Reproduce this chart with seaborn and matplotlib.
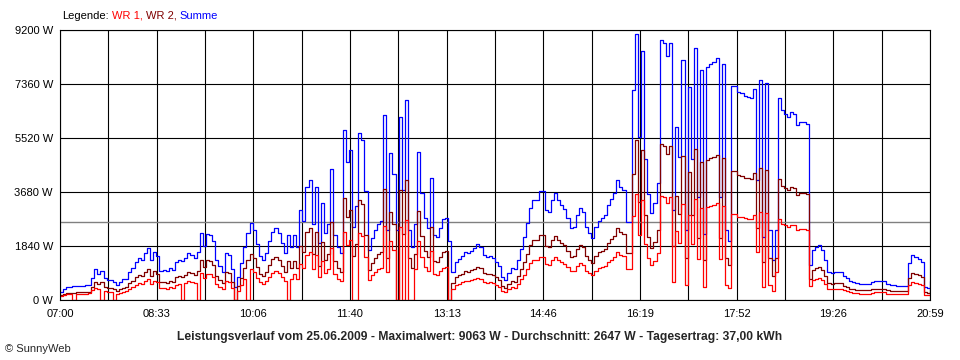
import numpy as np
import pandas as pd
import matplotlib
matplotlib.use("Agg")
import matplotlib.pyplot as plt
import seaborn as sns

# Tick labels / axis values
time_labels = ["07:00", "08:33", "10:06", "11:40", "13:13",
               "14:46", "16:19", "17:52", "19:26", "20:59"]
y_ticks = [0, 1840, 3680, 5520, 7360, 9200]
average_w = 2647

# Power readings in W, one sample about every 3 minutes (07:00 .. 20:59)
summe = [
    280, 380, 440, 460, 470, 480, 480, 490, 500, 510,
    760, 1050, 900, 1000, 750, 680, 690, 600, 510, 600,
    700, 720, 950, 1100, 1300, 1430, 1380, 1600, 1770, 1360,
    1640, 1500, 1000, 1020, 980, 1100, 1020, 1300, 1360, 1330,
    1430, 1600, 1530, 1430, 1640, 2300, 1850, 2250, 2200, 2000,
    1350, 1150, 950, 1600, 1530, 1050, 440, 780, 1260, 1800,
    2300, 2620, 2400, 1900, 1500, 1380, 1600, 2000, 2320, 2450,
    2300, 1950, 1600, 2200, 1800, 2200, 1800, 3050, 2700, 3850,
    4100, 2600, 3850, 1950, 3300, 2300, 2600, 4450, 2200, 1800,
    1600, 5800, 4700, 5100, 2500, 3200, 5700, 5450, 3700, 1700,
    2100, 2400, 2600, 2700, 6300, 2400, 5000, 4300, 2400, 6240,
    3750, 6800, 2400, 1800, 2600, 5050, 3650, 2800, 2450, 4150,
    2200, 2150, 2450, 2750, 2800, 2000, 950, 1300, 1400, 1500,
    1640, 1600, 1680, 1780, 1900, 1800, 1550, 1480, 1500, 1420,
    1300, 1150, 800, 680, 920, 1100, 1050, 1380, 1750, 2150,
    2620, 3150, 3400, 3420, 3700, 3700, 3050, 3000, 3400, 3650,
    3400, 3250, 3100, 2800, 2450, 2500, 2900, 3150, 3000, 2500,
    2290, 2100, 2480, 2700, 2780, 2900, 3250, 3450, 3650, 4090,
    3850, 3750, 2650, 2650, 7150, 9060, 5550, 8500, 4800, 3600,
    2950, 3300, 4000, 8860, 8750, 8300, 8750, 3050, 5900, 4870,
    8180, 2400, 7250, 4800, 8600, 3500, 7840, 2250, 7950, 8050,
    8100, 8250, 3500, 8050, 2380, 2000, 7300, 7300, 7100, 7050,
    6950, 6930, 6880, 7200, 4100, 7500, 2150, 7400, 2380, 1360,
    2380, 6880, 6470, 6350, 6230, 6400, 6350, 5960, 6070, 6050,
    6000, 1200, 1700, 1800, 1870, 1700, 1350, 950, 930, 950,
    960, 950, 820, 750, 640, 600, 580, 560, 550, 550,
    560, 600, 640, 650, 640, 640, 560, 510, 500, 490,
    490, 490, 490, 1260, 1530, 1470, 1400, 1300, 440, 420,
    650,
]

wr1 = [
    120, 170, 200, 210, 0, 220, 220, 220, 220, 230,
    330, 420, 360, 0, 300, 270, 280, 0, 200, 240,
    280, 290, 380, 440, 520, 570, 550, 640, 710, 540,
    660, 600, 400, 410, 390, 440, 410, 520, 540, 0,
    570, 640, 610, 570, 0, 920, 740, 900, 880, 800,
    540, 460, 380, 640, 610, 420, 0, 310, 500, 720,
    0, 1050, 960, 760, 600, 550, 640, 800, 930, 980,
    920, 780, 640, 0, 720, 880, 720, 1220, 1080, 1540,
    1640, 1040, 1540, 780, 1320, 920, 1040, 1780, 880, 720,
    640, 2320, 1880, 2040, 0, 0, 2280, 2180, 1480, 680,
    840, 960, 1040, 1080, 2520, 960, 2000, 1720, 0, 2500,
    0, 2720, 0, 0, 1040, 2020, 1460, 1120, 980, 1660,
    880, 860, 980, 1100, 1120, 0, 380, 520, 560, 600,
    660, 640, 670, 710, 760, 720, 620, 590, 600, 570,
    520, 460, 320, 270, 370, 440, 420, 550, 700, 860,
    1050, 1260, 1360, 1370, 1480, 1480, 1220, 1200, 1360, 1460,
    1360, 1300, 1240, 1120, 980, 1000, 1160, 1260, 1200, 1000,
    920, 840, 990, 1080, 1110, 1160, 1300, 1380, 1460, 1640,
    1540, 1500, 1060, 1060, 2860, 3620, 2220, 3400, 1920, 1440,
    1180, 1320, 1600, 3540, 3500, 3320, 3500, 600, 2360, 1950,
    3270, 500, 2900, 1920, 3440, 1400, 3140, 450, 3180, 3220,
    3240, 3300, 1400, 3220, 500, 400, 2920, 2920, 2840, 2820,
    2780, 2770, 2750, 2880, 1640, 3000, 450, 2960, 500, 300,
    950, 2750, 2590, 2540, 2490, 2560, 2540, 2380, 2430, 2420,
    2400, 480, 680, 720, 750, 680, 540, 380, 370, 380,
    380, 380, 330, 300, 260, 240, 230, 220, 220, 220,
    220, 240, 260, 260, 260, 260, 220, 200, 200, 200,
    200, 200, 200, 500, 610, 590, 560, 520, 180, 170,
    260,
]

wr2 = [
    160, 210, 240, 250, 250, 260, 260, 270, 280, 280,
    430, 630, 540, 600, 450, 410, 410, 360, 310, 360,
    420, 430, 570, 660, 780, 860, 830, 960, 1060, 820,
    980, 900, 600, 610, 590, 660, 610, 780, 820, 800,
    860, 960, 920, 860, 980, 1380, 1110, 1350, 1320, 1200,
    810, 690, 570, 960, 920, 630, 0, 470, 760, 1080,
    1380, 1570, 1440, 1140, 900, 830, 960, 1200, 1390, 1470,
    1380, 1170, 960, 1320, 1080, 1320, 1080, 1830, 1620, 2310,
    2460, 1560, 2310, 1170, 1980, 1380, 1560, 2670, 1320, 1080,
    960, 3480, 2820, 3060, 1500, 1920, 3420, 3270, 2220, 1020,
    1260, 1440, 1560, 1620, 3780, 1440, 3000, 2580, 0, 3740,
    2250, 4080, 1440, 1080, 1560, 3030, 2190, 1680, 1470, 2490,
    1320, 1290, 1470, 1650, 1680, 0, 570, 780, 840, 900,
    980, 960, 1010, 1070, 1140, 1080, 930, 890, 900, 850,
    780, 690, 480, 410, 550, 660, 630, 830, 1050, 1290,
    1570, 1890, 2040, 2050, 2220, 2220, 1830, 1800, 2040, 2190,
    2040, 1950, 1860, 1680, 1470, 1500, 1740, 1890, 1800, 1500,
    1370, 1260, 1490, 1620, 1670, 1740, 1950, 2070, 2190, 2450,
    2310, 2250, 1590, 1590, 4290, 5440, 3330, 5100, 2880, 2160,
    1770, 1980, 2400, 5320, 5250, 4980, 5250, 1830, 3540, 2920,
    4910, 1440, 4350, 2880, 5160, 2100, 4700, 1350, 4770, 4830,
    4860, 4950, 2100, 4830, 1430, 1200, 4380, 4380, 4260, 4230,
    4170, 4160, 4130, 4320, 2460, 4500, 1290, 4440, 1430, 820,
    1430, 4130, 3880, 3810, 3740, 3840, 3810, 3580, 3640, 3630,
    3600, 720, 1020, 1080, 1120, 1020, 810, 570, 560, 570,
    580, 570, 490, 450, 380, 360, 350, 340, 330, 330,
    340, 360, 380, 390, 380, 380, 340, 310, 300, 290,
    290, 290, 290, 760, 920, 880, 840, 780, 260, 250,
    390,
]

sns.set_style("white")
plt.rcParams['font.family'] = ['Liberation Sans', 'DejaVu Sans']
plt.rcParams['font.size'] = 8

minutes = np.linspace(0, 839, len(summe))
frames = []
for name, values in [("Summe", summe), ("WR 2", wr2), ("WR 1", wr1)]:
    frames.append(pd.DataFrame({"minute": minutes, "watt": values, "serie": name}))
data = pd.concat(frames, ignore_index=True)

palette = {"Summe": "#0000ff", "WR 2": "#800000", "WR 1": "#ff0000"}

fig = plt.figure(figsize=(9.6, 3.6), dpi=100)
ax = fig.add_axes([60 / 960, 60 / 360, 870 / 960, 270 / 360])

ax.axhline(average_w, color="#808080", linewidth=1.0, zorder=1.5)
sns.lineplot(data=data, x="minute", y="watt", hue="serie",
             hue_order=["Summe", "WR 2", "WR 1"], palette=palette,
             estimator=None, sort=False, drawstyle="steps-post",
             linewidth=0.9, legend=False, ax=ax, zorder=2)

# axes, grid and ticks
ax.set_xlim(0, 839)
ax.set_ylim(0, 9200)
grid_pos = np.linspace(0, 839, 19)
ax.set_xticks(grid_pos)
ax.set_xticklabels([time_labels[k // 2] if k % 2 == 0 else "" for k in range(19)])
ax.set_yticks(y_ticks)
ax.set_yticklabels([f"{v} W" for v in y_ticks])
ax.set_xlabel("")
ax.set_ylabel("")
ax.set_axisbelow(True)
ax.grid(True, color="black", linewidth=0.8)
ax.tick_params(direction="out", length=3.6, width=0.8, color="black",
               labelsize=8, labelcolor="black")
ax.tick_params(axis="x", pad=3)
ax.tick_params(axis="y", pad=1.5)
for spine in ax.spines.values():
    spine.set_color("black")
    spine.set_linewidth(0.8)

# legend line at the top
renderer = fig.canvas.get_renderer()
x = 62 / 960
y = 1 - 16 / 360
for part, colour in [("Legende:", "black"), ("WR 1,", palette["WR 1"]),
                     ("WR 2,", palette["WR 2"]), ("Summe", palette["Summe"])]:
    t = fig.text(x, y, part, color=colour, va="center", ha="left", fontsize=8)
    bb = t.get_window_extent(renderer=renderer)
    x = (bb.x1 + 3) / fig.bbox.width

fig.text(0.5, 1 - 337 / 360,
         "Leistungsverlauf vom 25.06.2009 - Maximalwert: 9063 W - "
         "Durchschnitt: 2647 W - Tagesertrag: 37,00 kWh",
         ha="center", va="center", fontsize=8.7, fontweight="bold")
fig.text(5 / 960, 1 - 349 / 360, "\u00a9 SunnyWeb", ha="left", va="center", fontsize=8)

fig.savefig("out.png", dpi=100)
